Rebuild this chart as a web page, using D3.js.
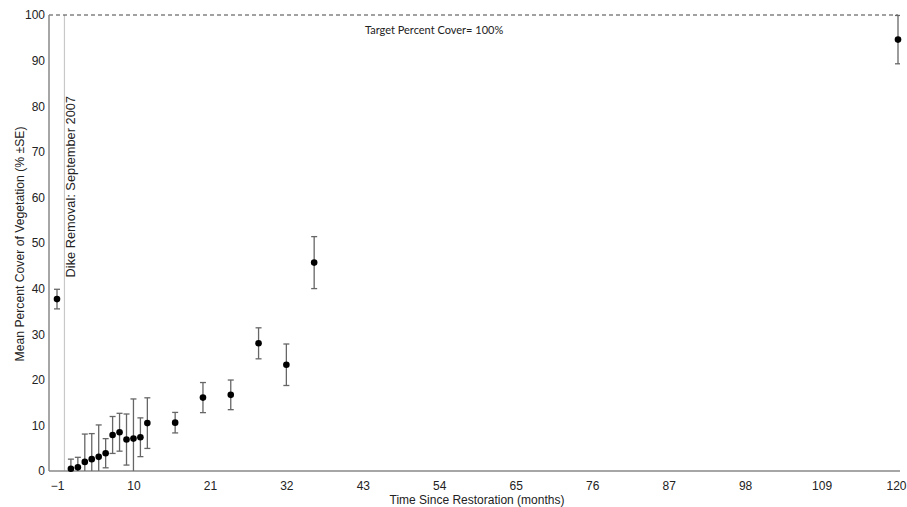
<!DOCTYPE html>
<html><head><meta charset="utf-8">
<script src="https://cdn.jsdelivr.net/npm/d3@7"></script>
<style>body{margin:0;background:#fff}svg{display:block}</style>
</head><body>
<svg id="c" width="907" height="507"></svg>
<script>
const months = [-1, 1, 2, 3, 4, 5, 6, 7, 8, 9, 10, 11, 12, 16, 20, 24, 28, 32, 36, 120];
const meanCover = [37.7, 0.5, 0.8, 2.0, 2.6, 3.1, 3.9, 7.9, 8.5, 6.9, 7.1, 7.4, 10.5, 10.6, 16.1, 16.7, 28.0, 23.3, 45.7, 94.6];
const seCover = [2.15, 2.1, 2.2, 6.1, 5.6, 7.0, 3.2, 4.05, 4.15, 5.6, 8.7, 4.25, 5.55, 2.25, 3.3, 3.25, 3.4, 4.55, 5.7, 5.3];
const xTicks = [-1, 10, 21, 32, 43, 54, 65, 76, 87, 98, 109, 120];
const yTicks = [0, 10, 20, 30, 40, 50, 60, 70, 80, 90, 100];
const targetCover = 100;
const dikeMonth = 0;

const svg = d3.select("#c");
const x = d3.scaleLinear().domain([-1, 120]).range([57, 898]);
const y = d3.scaleLinear().domain([0, 100]).range([471, 15]);
const x0 = 49, x1 = 900;
const font = "'Liberation Sans', Arial, sans-serif";

svg.append("defs").append("clipPath").attr("id", "clip")
  .append("rect").attr("x", x0).attr("y", y(100) - 2).attr("width", x1 - x0).attr("height", y(0) - y(100) + 2);

// dike removal line
svg.append("line").attr("x1", x(dikeMonth) + 0.5).attr("x2", x(dikeMonth) + 0.5)
  .attr("y1", y(100)).attr("y2", y(0)).attr("stroke", "#c8c8c8").attr("stroke-width", 1.2);
svg.append("text").attr("transform", `translate(${x(dikeMonth) + 11},${y(100) + 81}) rotate(-90)`)
  .attr("text-anchor", "end").attr("font-family", font).attr("font-size", 12.8).attr("fill", "#222")
  .text("Dike Removal: September 2007");

// target line
svg.append("line").attr("x1", x0).attr("x2", x(120)).attr("y1", y(targetCover)).attr("y2", y(targetCover))
  .attr("stroke", "#444").attr("stroke-width", 1.2).attr("stroke-dasharray", "4,3");
svg.append("text").attr("x", 365).attr("y", 34).attr("font-family", "Lato, 'Open Sans', sans-serif")
  .attr("font-size", 11).attr("fill", "#222").text("Target Percent Cover= 100%");

// axes
const xAxis = svg.append("g").attr("transform", `translate(0,${y(0)})`)
  .call(d3.axisBottom(x).tickValues(xTicks).tickSize(0).tickPadding(10));
xAxis.select(".domain").attr("d", `M${x0},0H${x1}`).attr("stroke", "#888").attr("stroke-width", 1.5);
xAxis.selectAll("text").attr("font-family", font).attr("font-size", 12).attr("fill", "#222")
  .attr("dx", d => d === xTicks[xTicks.length - 1] ? -2 : 0);

const yAxis = svg.append("g").attr("transform", `translate(${x0},0)`)
  .call(d3.axisLeft(y).tickValues(yTicks).tickSize(0).tickPadding(4));
yAxis.select(".domain").attr("d", `M0,${y(100)}V${y(0)}`).attr("stroke", "#888").attr("stroke-width", 1.5);
yAxis.selectAll("text").attr("font-family", font).attr("font-size", 12).attr("fill", "#222");

svg.append("text").attr("x", 477).attr("y", 504).attr("text-anchor", "middle")
  .attr("font-family", font).attr("font-size", 12).attr("fill", "#222").text("Time Since Restoration (months)");
svg.append("text").attr("transform", `translate(24,244) rotate(-90)`).attr("text-anchor", "middle")
  .attr("font-family", font).attr("font-size", 12.2).attr("fill", "#222").text("Mean Percent Cover of Vegetation (% ±SE)");

// error bars and points
const data = months.map((m, i) => ({ m, v: meanCover[i], se: seCover[i] }));
const g = svg.append("g").attr("clip-path", "url(#clip)");
const eb = g.selectAll("g.eb").data(data).join("g").attr("class", "eb")
  .attr("stroke", "#666").attr("stroke-width", 1.3);
eb.append("line").attr("x1", d => x(d.m)).attr("x2", d => x(d.m))
  .attr("y1", d => y(d.v + d.se)).attr("y2", d => y(d.v - d.se));
eb.append("line").attr("x1", d => x(d.m) - 3).attr("x2", d => x(d.m) + 3)
  .attr("y1", d => y(d.v + d.se)).attr("y2", d => y(d.v + d.se));
eb.append("line").attr("x1", d => x(d.m) - 3).attr("x2", d => x(d.m) + 3)
  .attr("y1", d => y(d.v - d.se)).attr("y2", d => y(d.v - d.se));
svg.selectAll("circle.pt").data(data).join("circle").attr("class", "pt")
  .attr("cx", d => x(d.m)).attr("cy", d => y(d.v)).attr("r", 3.3).attr("fill", "#000");
</script>
</body></html>
